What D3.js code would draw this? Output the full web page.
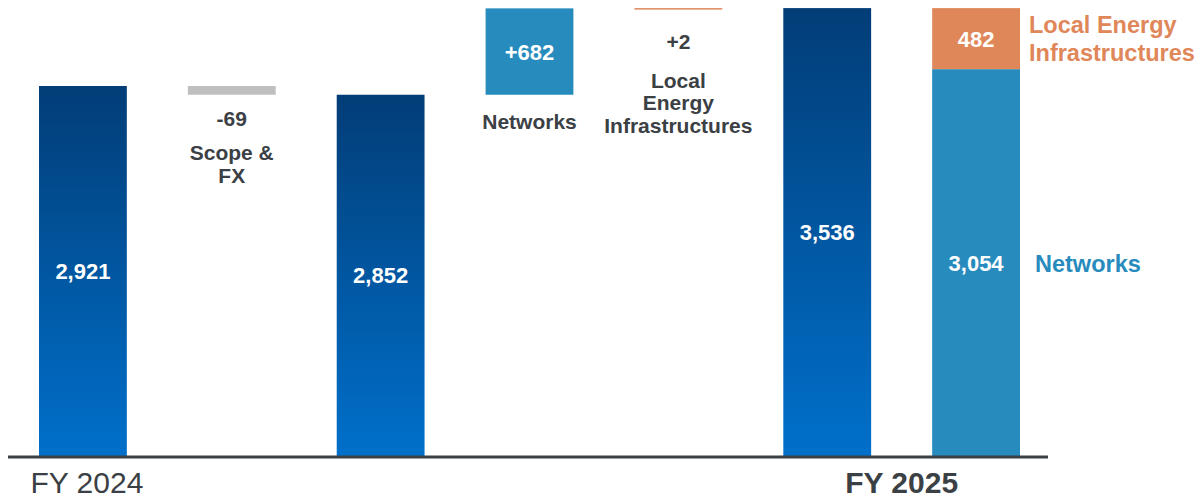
<!DOCTYPE html>
<html><head><meta charset="utf-8">
<script src="https://cdn.jsdelivr.net/npm/d3@7"></script>
<style>body{margin:0;background:#fff}svg{display:block;font-family:"Liberation Sans",Arial,sans-serif}</style>
</head><body><svg id="c" width="1202" height="499"></svg>
<script>
const slots = ["s0","s1","s2","s3","s4","s5","s6"];
const totals = [{slot:"s0", value:2921, label:"2,921"},{slot:"s2", value:2852, label:"2,852"},{slot:"s5", value:3536, label:"3,536"}];
const deltas = [
  {slot:"s1", from:2921, to:2852, valueLabel:"-69", name:["Scope &","FX"], color:"#bfbfbf", inside:false},
  {slot:"s3", from:2852, to:3534, valueLabel:"+682", name:["Networks"], color:"#278bbd", inside:true},
  {slot:"s4", from:3534, to:3536, valueLabel:"+2", name:["Local","Energy","Infrastructures"], color:"#e0875a", inside:false}
];
const stackSegments = [{name:"Networks", value:3054, label:"3,054", color:"#278bbd"},{name:"Local Energy Infrastructures", value:482, label:"482", color:"#e0875a"}];
const stackSlot = "s6";
const axisLabels = [{slots:["s0"], text:"FY 2024", bold:false},{slots:["s5","s6"], text:"FY 2025", bold:true}];

const svg = d3.select("#c");
const x = d3.scaleBand().domain(slots).range([39,1020]).paddingInner(0.41).paddingOuter(0);
const y = d3.scaleLinear().domain([0,3600]).range([456,0]);
const dark = "#3b4045";
const extraOffset = {s1:0, s3:0, s4:8};

const defs = svg.append("defs");
const g = defs.append("linearGradient").attr("id","blueGrad").attr("x1",0).attr("y1",0).attr("x2",0).attr("y2",1);
g.append("stop").attr("offset","0%").attr("stop-color","#023d77");
g.append("stop").attr("offset","100%").attr("stop-color","#0070cb");

// totals
svg.selectAll("rect.total").data(totals).join("rect").attr("class","total")
  .attr("x",d=>x(d.slot)).attr("width",x.bandwidth())
  .attr("y",d=>y(d.value)).attr("height",d=>y(0)-y(d.value)+2)
  .attr("fill","url(#blueGrad)");
svg.selectAll("text.total").data(totals).join("text").attr("class","total")
  .attr("x",d=>x(d.slot)+x.bandwidth()/2).attr("y",d=>(y(d.value)+y(0))/2+8)
  .attr("text-anchor","middle").attr("fill","#fff").attr("font-weight","bold").attr("font-size",22)
  .text(d=>d.label);

// deltas
deltas.forEach(d=>{
  const top = y(Math.max(d.from,d.to)), bot = y(Math.min(d.from,d.to));
  const h = Math.max(bot-top, 1.5);
  svg.append("rect").attr("x",x(d.slot)).attr("width",x.bandwidth()).attr("y",top).attr("height",h).attr("fill",d.color);
  const cx = x(d.slot)+x.bandwidth()/2;
  const off = extraOffset[d.slot];
  let base, step = 23;
  if (d.inside) {
    svg.append("text").attr("x",cx).attr("y",(top+bot)/2+8).attr("text-anchor","middle").attr("fill","#fff")
      .attr("font-weight","bold").attr("font-size",22).text(d.valueLabel);
    base = bot + 34;
  } else {
    svg.append("text").attr("x",cx).attr("y",top+h+31+off).attr("text-anchor","middle").attr("fill",dark)
      .attr("font-weight","bold").attr("font-size",21).text(d.valueLabel);
    base = top+h+65+off+(off?5:0);
    if (off) step = 22.5;
  }
  d.name.forEach((t,i)=>{
    svg.append("text").attr("x",cx).attr("y",base+i*step).attr("text-anchor","middle").attr("fill",dark)
      .attr("font-weight","bold").attr("font-size",21).text(t);
  });
});

// stacked bar
let acc = 0;
stackSegments.forEach(s=>{
  const y0 = y(acc), y1 = y(acc+s.value);
  svg.append("rect").attr("x",x(stackSlot)).attr("width",x.bandwidth()).attr("y",y1).attr("height",y0-y1+(acc===0?2:0)).attr("fill",s.color);
  svg.append("text").attr("x",x(stackSlot)+x.bandwidth()/2).attr("y",(y0+y1)/2+8).attr("text-anchor","middle")
    .attr("fill","#fff").attr("font-weight","bold").attr("font-size",22).text(s.label);
  acc += s.value;
});
// side labels
const sx = x(stackSlot)+x.bandwidth()+9;
svg.append("text").attr("x",sx).attr("y",33).attr("fill","#e0875a").attr("font-weight","bold").attr("font-size",23.5).text("Local Energy");
svg.append("text").attr("x",sx).attr("y",61).attr("fill","#e0875a").attr("font-weight","bold").attr("font-size",23.5).text("Infrastructures");
svg.append("text").attr("x",sx+6).attr("y",272).attr("fill","#278bbd").attr("font-weight","bold").attr("font-size",23.5).text("Networks");

// axis line
svg.append("line").attr("x1",8).attr("x2",1048).attr("y1",457).attr("y2",457).attr("stroke",dark).attr("stroke-width",3);

// axis labels
axisLabels.forEach(a=>{
  const xs = a.slots.map(s=>x(s)+x.bandwidth()/2);
  svg.append("text").attr("x",d3.mean(xs)+(a.bold?0:4)).attr("y",493).attr("text-anchor","middle").attr("fill",dark)
    .attr("font-weight",a.bold?"bold":"normal").attr("font-size",30).text(a.text);
});
</script></body></html>
